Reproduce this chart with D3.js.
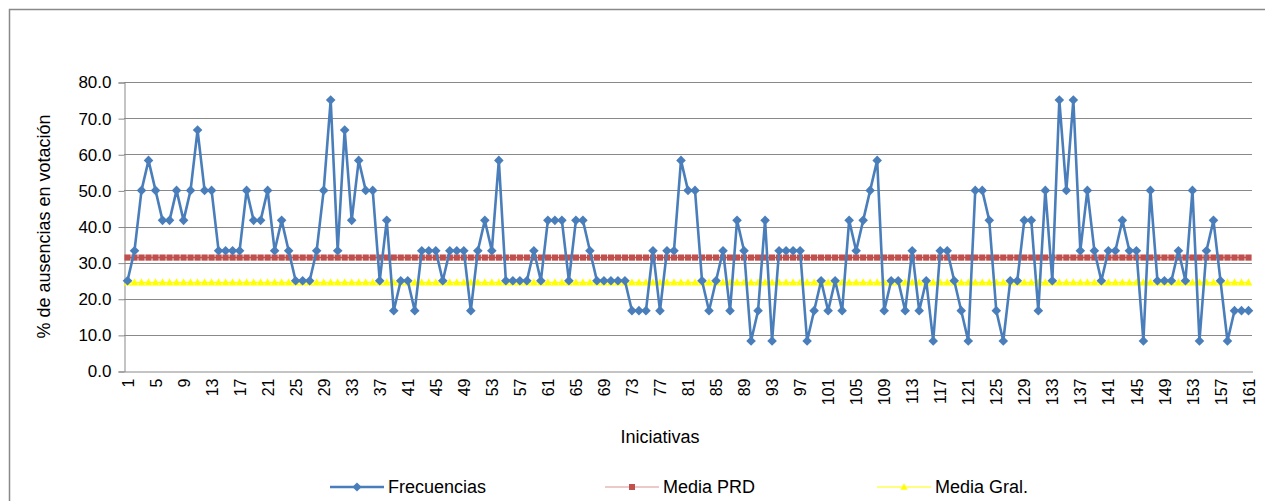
<!DOCTYPE html>
<html>
<head>
<meta charset="utf-8">
<script src="https://cdn.jsdelivr.net/npm/d3@7"></script>
<style>
  html, body { margin: 0; padding: 0; background: #fff; }
  svg { display: block; font-family: "Liberation Sans", Arial, sans-serif; }
</style>
</head>
<body>
<svg id="chart" width="1265" height="501"></svg>
<script>
// ---- data ----
const categories = d3.range(1, 162).map(String);
const frecuencias = [
  25.0, 33.3, 50.0, 58.3, 50.0, 41.7, 41.7, 50.0, 41.7, 50.0,
  66.7, 50.0, 50.0, 33.3, 33.3, 33.3, 33.3, 50.0, 41.7, 41.7,
  50.0, 33.3, 41.7, 33.3, 25.0, 25.0, 25.0, 33.3, 50.0, 75.0,
  33.3, 66.7, 41.7, 58.3, 50.0, 50.0, 25.0, 41.7, 16.7, 25.0,
  25.0, 16.7, 33.3, 33.3, 33.3, 25.0, 33.3, 33.3, 33.3, 16.7,
  33.3, 41.7, 33.3, 58.3, 25.0, 25.0, 25.0, 25.0, 33.3, 25.0,
  41.7, 41.7, 41.7, 25.0, 41.7, 41.7, 33.3, 25.0, 25.0, 25.0,
  25.0, 25.0, 16.7, 16.7, 16.7, 33.3, 16.7, 33.3, 33.3, 58.3,
  50.0, 50.0, 25.0, 16.7, 25.0, 33.3, 16.7, 41.7, 33.3, 8.3,
  16.7, 41.7, 8.3, 33.3, 33.3, 33.3, 33.3, 8.3, 16.7, 25.0,
  16.7, 25.0, 16.7, 41.7, 33.3, 41.7, 50.0, 58.3, 16.7, 25.0,
  25.0, 16.7, 33.3, 16.7, 25.0, 8.3, 33.3, 33.3, 25.0, 16.7,
  8.3, 50.0, 50.0, 41.7, 16.7, 8.3, 25.0, 25.0, 41.7, 41.7,
  16.7, 50.0, 25.0, 75.0, 50.0, 75.0, 33.3, 50.0, 33.3, 25.0,
  33.3, 33.3, 41.7, 33.3, 33.3, 8.3, 50.0, 25.0, 25.0, 25.0,
  33.3, 25.0, 50.0, 8.3, 33.3, 41.7, 25.0, 8.3, 16.7, 16.7,
  16.7
];
const mediaPRD = 31.4;
const mediaGral = 24.5;
const yTicks = [0, 10, 20, 30, 40, 50, 60, 70, 80];
const xTickLabels = ["1","5","9","13","17","21","25","29","33","37","41","45","49","53","57",
  "61","65","69","73","77","81","85","89","93","97","101","105","109","113","117","121",
  "125","129","133","137","141","145","149","153","157","161"];
const seriesNames = ["Frecuencias", "Media PRD", "Media Gral."];

// ---- layout ----
const svg = d3.select("#chart");
const plot = { left: 124, right: 1252, top: 82, bottom: 371 };
const blue = "#4A7EBB", red = "#C0504D", yellow = "#FFFF00", grid = "#898989";

const x = d3.scaleBand().domain(categories).range([plot.left, plot.right]);
const cx = c => x(c) + x.bandwidth() / 2;
const y = d3.scaleLinear().domain([0, 80]).range([plot.bottom, plot.top]);

// outer frame (extends beyond the viewport on right/bottom)
svg.append("rect").attr("x", 9.5).attr("y", 9.5).attr("width", 1300).attr("height", 600)
  .attr("fill", "none").attr("stroke", grid).attr("stroke-width", 1.5);

// gridlines
svg.append("g").selectAll("line").data(yTicks.filter(d => d > 0)).join("line")
  .attr("x1", plot.left).attr("x2", plot.right)
  .attr("y1", d => Math.round(y(d)) + 0.5).attr("y2", d => Math.round(y(d)) + 0.5)
  .attr("stroke", grid).attr("stroke-width", 1);

// y axis
const yAxis = d3.axisLeft(y).tickValues(yTicks).tickFormat(d3.format(".1f")).tickSizeOuter(0).tickSize(6).tickPadding(7);
const gy = svg.append("g").attr("transform", `translate(${plot.left + 0.5},0.5)`).call(yAxis);
gy.select(".domain").attr("stroke", grid);
gy.selectAll(".tick line").attr("stroke", grid);
gy.selectAll(".tick text").attr("font-size", 17).attr("fill", "#000")
  .attr("font-family", "Liberation Sans, Arial, sans-serif");

// x axis
const xAxis = d3.axisBottom(x).tickValues(xTickLabels).tickSize(0).tickSizeOuter(0).tickPadding(0);
const gx = svg.append("g").attr("transform", `translate(0.5,${plot.bottom + 0.5})`).call(xAxis);
gx.select(".domain").attr("stroke", grid);
gx.selectAll(".tick text")
  .attr("font-size", 16).attr("fill", "#000").attr("font-family", "Liberation Sans, Arial, sans-serif")
  .attr("text-anchor", "end").attr("dy", "0.35em")
  .attr("transform", "translate(0,7) rotate(-90)").attr("x", 0).attr("y", 0);

// axis titles
svg.append("text").attr("transform", `translate(50,${(plot.top + plot.bottom) / 2}) rotate(-90)`)
  .attr("text-anchor", "middle").attr("font-size", 18).attr("fill", "#000")
  .text("% de ausencias en votación");
svg.append("text").attr("x", 660).attr("y", 443).attr("text-anchor", "middle")
  .attr("font-size", 18).attr("fill", "#000").text("Iniciativas");

// symbols
const diamond = r => `M0,${-r}L${r},0L0,${r}L${-r},0Z`;
const square = s => `M${-s / 2},${-s / 2}h${s}v${s}h${-s}Z`;
const triangle = s => `M0,${-s * 0.55}L${s / 2},${s * 0.4}L${-s / 2},${s * 0.4}Z`;

// Media Gral series
const gGral = svg.append("g");
gGral.append("path").datum(categories)
  .attr("d", d3.line().x(cx).y(() => y(mediaGral)))
  .attr("fill", "none").attr("stroke", yellow).attr("stroke-width", 1.5);
gGral.selectAll("path.m").data(categories).join("path").attr("class", "m")
  .attr("transform", d => `translate(${cx(d)},${y(mediaGral)})`)
  .attr("d", triangle(7.5)).attr("fill", yellow);

// Media PRD series
const gPRD = svg.append("g");
gPRD.append("path").datum(categories)
  .attr("d", d3.line().x(cx).y(() => y(mediaPRD)))
  .attr("fill", "none").attr("stroke", red).attr("stroke-width", 1.5);
gPRD.selectAll("path.m").data(categories).join("path").attr("class", "m")
  .attr("transform", d => `translate(${cx(d)},${y(mediaPRD)})`)
  .attr("d", square(6.2)).attr("fill", red);

// Frecuencias series
const gF = svg.append("g");
gF.append("path").datum(frecuencias)
  .attr("d", d3.line().x((d, i) => cx(categories[i])).y(d => y(d)))
  .attr("fill", "none").attr("stroke", blue).attr("stroke-width", 2.6).attr("stroke-linejoin", "round");
gF.selectAll("path.m").data(frecuencias).join("path").attr("class", "m")
  .attr("transform", (d, i) => `translate(${cx(categories[i])},${y(d)})`)
  .attr("d", diamond(4.8)).attr("fill", blue);

// legend
const legendItems = [
  { name: seriesNames[0], x: 330, color: blue, width: 2.6, sym: diamond(4.6) },
  { name: seriesNames[1], x: 605, color: red, width: 1.2, sym: square(6), lineColor: "#D99694" },
  { name: seriesNames[2], x: 877, color: yellow, width: 1.2, sym: triangle(7) }
];
const ly = 487;
const lg = svg.append("g").selectAll("g").data(legendItems).join("g")
  .attr("transform", d => `translate(${d.x},${ly})`);
lg.append("line").attr("x1", 0).attr("x2", 54).attr("y1", 0).attr("y2", 0)
  .attr("stroke", d => d.lineColor || d.color).attr("stroke-width", d => d.width);
lg.append("path").attr("transform", "translate(27,0)").attr("d", d => d.sym).attr("fill", d => d.color);
lg.append("text").attr("x", 58).attr("y", 0).attr("dy", "0.35em")
  .attr("font-size", 18).attr("fill", "#000").text(d => d.name);
</script>
</body>
</html>
